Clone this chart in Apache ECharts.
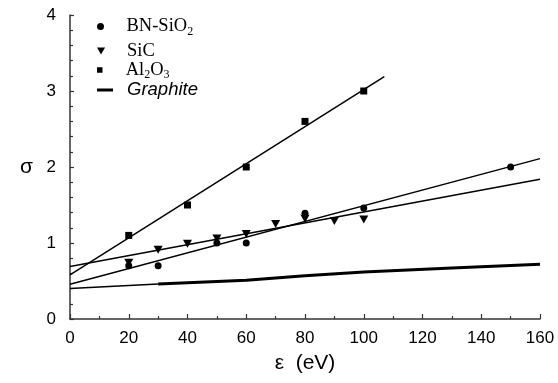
<!DOCTYPE html>
<html>
<head>
<meta charset="utf-8">
<script src="https://cdn.jsdelivr.net/npm/echarts@6/dist/echarts.min.js"></script>
<style>
html,body{margin:0;padding:0;background:#fff;}
#chart{width:558px;height:383px;}
</style>
</head>
<body>
<div id="chart"></div>
<script>
// ---- data ----
const xTicks = [0, 20, 40, 60, 80, 100, 120, 140, 160];
const yTicks = [0, 1, 2, 3, 4];
const bnSiO2 = [[20,0.70],[30,0.70],[50,1.00],[60,1.00],[80,1.39],[100,1.46],[150,2.00]];
const sic = [[20,0.74],[30,0.91],[40,0.99],[50,1.06],[60,1.12],[70,1.25],[80,1.32],[90,1.29],[100,1.31]];
const al2o3 = [[20,1.10],[40,1.50],[60,2.00],[80,2.60],[100,3.00]];
const al2o3Fit = [[0,0.58],[107,3.19]];
const bnSiO2Fit = [[0,0.457],[160,2.11]];
const sicFit = [[0,0.69],[160,1.84]];
const graphiteThin = [[0,0.40],[30,0.46]];
const graphite = [[30,0.46],[60,0.51],[70,0.54],[80,0.57],[100,0.62],[130,0.67],[160,0.72]];

const TRI = 'path://M0,0L10,0L5,8.66Z';
const SQ = 'path://M0,0H10V10H0Z';
const serif = 'Liberation Serif';
const sans = 'Liberation Sans';

const rich = {
  p: {fontFamily: serif, fontSize: 18.5, lineHeight: 22, verticalAlign: 'middle', color: '#000', padding: [0,0,0,13]},
  m: {fontFamily: serif, fontSize: 18.5, lineHeight: 22, verticalAlign: 'middle', color: '#000'},
  s: {fontFamily: serif, fontSize: 12, lineHeight: 12, verticalAlign: 'bottom', color: '#000'},
  g: {fontFamily: sans, fontStyle: 'italic', fontSize: 18.5, lineHeight: 22, verticalAlign: 'middle', color: '#000', padding: [0,0,0,9]}
};

function leg(name, icon, top, w, h, fmt) {
  return {
    data: [{name: name, icon: icon}],
    orient: 'vertical', left: 97, top: top, padding: 0,
    itemWidth: w, itemHeight: h, selectedMode: false,
    formatter: () => fmt,
    textStyle: {rich: rich}
  };
}

const chart = echarts.init(document.getElementById('chart'));
chart.setOption({
  animation: false,
  backgroundColor: '#fff',
  grid: {left: 70, right: 18, top: 15, bottom: 64, containLabel: false},
  legend: [
    leg('BN-SiO2', 'circle', 17, 16, 7, '{p|BN-SiO}{s|2}'),
    leg('SiC', TRI, 41.5, 16, 7, '{p|SiC}'),
    leg('Al2O3', SQ, 60.5, 16, 5.5, '{p|Al}{s|2}{m|O}{s|3}'),
    leg('Graphite', 'rect', 80.5, 16, 3, '{g|Graphite}')
  ],
  xAxis: {
    type: 'value', min: 0, max: 160, interval: 20,
    name: 'ε  (eV)', nameLocation: 'middle', nameGap: 34,
    nameTextStyle: {fontFamily: sans, fontSize: 21, color: '#000'},
    axisLine: {lineStyle: {color: '#333', width: 1.5}},
    axisTick: {inside: true, length: 5, lineStyle: {color: '#333', width: 1.2}},
    minorTick: {show: true, splitNumber: 2, length: 3, lineStyle: {color: '#333', width: 1.2}},
    axisLabel: {margin: 11, fontFamily: sans, fontSize: 17, color: '#000',
      formatter: v => xTicks.includes(v) ? String(v) : ''},
    splitLine: {show: false}
  },
  yAxis: {
    type: 'value', min: 0, max: 4, interval: 1,
    name: 'σ', nameLocation: 'middle', nameGap: 37, nameRotate: 0,
    nameTextStyle: {fontFamily: sans, fontSize: 21, color: '#000'},
    axisLine: {show: true, lineStyle: {color: '#333', width: 1.5}},
    axisTick: {show: true, inside: true, length: 4, lineStyle: {color: '#333', width: 1.2}},
    minorTick: {show: true, splitNumber: 5, length: 3, lineStyle: {color: '#333', width: 1.2}},
    axisLabel: {margin: 14, fontFamily: sans, fontSize: 17, color: '#000',
      formatter: v => yTicks.includes(v) ? String(v) : ''},
    splitLine: {show: false}
  },
  series: [
    {name: 'Al2O3 fit', type: 'line', data: al2o3Fit, symbol: 'none', silent: true,
      lineStyle: {color: '#000', width: 1.5}},
    {name: 'BN-SiO2 fit', type: 'line', data: bnSiO2Fit, symbol: 'none', silent: true,
      lineStyle: {color: '#000', width: 1.5}},
    {name: 'SiC fit', type: 'line', data: sicFit, symbol: 'none', silent: true,
      lineStyle: {color: '#000', width: 1.5}},
    {name: 'Graphite thin', type: 'line', data: graphiteThin, symbol: 'none', silent: true,
      lineStyle: {color: '#000', width: 1.5}},
    {name: 'Graphite', type: 'line', data: graphite, symbol: 'none', silent: true,
      itemStyle: {color: '#000'}, lineStyle: {color: '#000', width: 3}},
    {name: 'BN-SiO2', type: 'scatter', data: bnSiO2, symbol: 'circle', symbolSize: 7,
      itemStyle: {color: '#000', opacity: 1}},
    {name: 'SiC', type: 'scatter', data: sic, symbol: TRI, symbolSize: [9, 8],
      itemStyle: {color: '#000', opacity: 1}},
    {name: 'Al2O3', type: 'scatter', data: al2o3, symbol: SQ, symbolSize: 7,
      itemStyle: {color: '#000', opacity: 1}}
  ]
});
</script>
</body>
</html>
